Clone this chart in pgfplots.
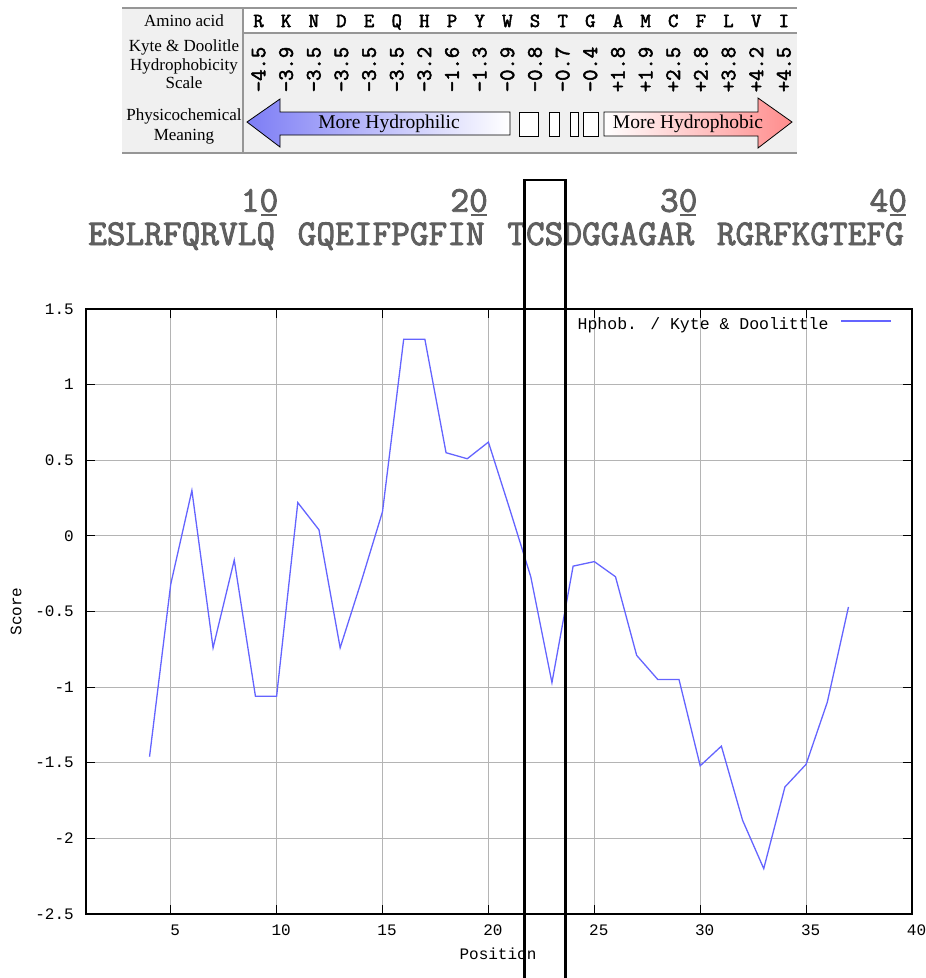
\documentclass[border=0pt]{standalone}
\usepackage{fontspec}
\usepackage{pgfplots}
\pgfplotsset{compat=1.18}
\setmainfont{Liberation Serif}
\newfontfamily\plotfont{Liberation Mono}
\newfontfamily\courb{Latin Modern Mono}[FakeBold=2.5]
\newcommand\pf{\plotfont\fontsize{16}{18}\selectfont}
\newcommand\lf{\plotfont\fontsize{16.5}{18}\selectfont}
\newcommand\tabfont{\fontsize{17}{19}\selectfont}
\newcommand\aafont{\courb\fontsize{20}{21}\selectfont}
\newcommand\valfont{\courb\fontsize{22}{23}\selectfont}
\newcommand\seqfont{\courb\fontsize{36.3}{40}\selectfont}
\newcommand\arrfont{\fontsize{19.5}{21}\selectfont}
\definecolor{tabbg}{RGB}{240,240,240}
\definecolor{tabline}{RGB}{150,150,150}
\definecolor{seqgray}{RGB}{95,95,95}
\definecolor{gridgray}{RGB}{180,180,180}
\definecolor{plotblue}{RGB}{100,100,255}
\definecolor{arrblue}{RGB}{125,125,245}
\definecolor{arrred}{RGB}{255,140,140}
\begin{document}
\begin{tikzpicture}
\useasboundingbox (0pt,0pt) rectangle (926pt,-978pt);
\begin{scope}[x=1pt,y=-1pt]
  % table background
  \fill[tabbg] (122,8) rectangle (797,153);
  \fill[white] (243,8) rectangle (797,33);
  \draw[tabline, line width=2pt] (122,8) -- (797,8);
  \draw[tabline, line width=2pt] (122,153) -- (797,153);
  \draw[tabline, line width=2pt] (243,33) -- (797,33);
  \draw[tabline, line width=1.5pt] (243,8) -- (243,153);
  % left column
  \node[font=\tabfont, anchor=base, inner sep=0pt] at (184,26.7) {Amino acid};
  \node[font=\tabfont, anchor=base, inner sep=0pt] at (184,51.7) {Kyte \& Doolitle};
  \node[font=\tabfont, anchor=base, inner sep=0pt] at (184,70) {Hydrophobicity};
  \node[font=\tabfont, anchor=base, inner sep=0pt] at (184,88.3) {Scale};
  \node[font=\tabfont, anchor=base, inner sep=0pt] at (184,120) {Physicochemical};
  \node[font=\tabfont, anchor=base, inner sep=0pt] at (184,140) {Meaning};
  % amino acids
  \foreach \l [count=\i from 0] in {R,K,N,D,E,Q,H,P,Y,W,S,T,G,A,M,C,F,L,V,I}
    \node[font=\aafont, anchor=base, inner sep=0pt] at ({258.5+27.65*\i},27) {\l};
  \foreach \v [count=\i from 0] in {-4.5,-3.9,-3.5,-3.5,-3.5,-3.5,-3.2,-1.6,-1.3,-0.9,-0.8,-0.7,-0.4,+1.8,+1.9,+2.5,+2.8,+3.8,+4.2,+4.5}
    \node[font=\valfont, rotate=90, anchor=center, inner sep=0pt] at ({258.5+27.65*\i},69.5) {\v};
  % arrows
  \draw[black, line width=0.8pt, left color=arrblue, right color=white]
    (247,122) -- (280,99) -- (280,112) -- (510,112) -- (510,135) -- (280,135) -- (280,147) -- cycle;
  \draw[black, line width=0.8pt, left color=white, right color=arrred]
    (604,112) -- (758,112) -- (758,98) -- (792,122) -- (758,148) -- (758,136) -- (604,136) -- cycle;
  \draw[black, line width=0.8pt, fill=white] (519.5,112) rectangle (538.5,136);
  \draw[black, line width=0.8pt, fill=white] (549.5,112) rectangle (559,136);
  \draw[black, line width=0.8pt, fill=white] (570,112) rectangle (578.5,136);
  \draw[black, line width=0.8pt, fill=white] (583,112) rectangle (598.5,136);
  \node[font=\arrfont, anchor=base, inner sep=0pt] at (389,128.3) {More Hydrophilic};
  \node[font=\arrfont, anchor=base, inner sep=0pt] at (688,128.3) {More Hydrophobic};
  % sequence
  \foreach \g/\s/\n in {ESLRFQRVLQ/88/1,GQEIFPGFIN/297.55/2,TCSDGGAGAR/507.1/3,RGRFKGTEFG/716.65/4} {
    \node[font=\seqfont, text=seqgray, anchor=base west, inner sep=0pt] at (\s,245) {\g};
    \node[font=\seqfont, text=seqgray, anchor=base east, inner sep=0pt] at ({\s+190.5},211.7) {\n0};
    \draw[seqgray, line width=1.6pt] ({\s+173},215) -- ({\s+189},215);
  }
\end{scope}
\begin{axis}[
  at={(86pt,-914pt)}, anchor=south west,
  scale only axis, width=826pt, height=605pt,
  xmin=1, xmax=40, ymin=-2.5, ymax=1.5,
  xtick={5,10,15,20,25,30,35,40},
  xticklabels={5,10,15,20,25,30,35,40},
  ytick={-2.5,-2,-1.5,-1,-0.5,0,0.5,1,1.5},
  yticklabels={-2.5,-2,-1.5,-1,-0.5,0,0.5,1,1.5},
  grid=major,
  major grid style={color=gridgray, line width=1pt},
  axis line style={line width=1.5pt},
  tick align=inside,
  major tick length=9pt,
  tick style={black, line width=1.2pt},
  xticklabel style={font=\pf, inner sep=0pt, yshift=-11pt, xshift=4.5pt},
  yticklabel style={font=\pf, inner sep=0pt, xshift=-12pt},
  xlabel={Position}, ylabel={Score},
  xlabel style={font=\pf, inner sep=0pt, at={(axis description cs:0.4988,-0.0661)}, anchor=center},
  ylabel style={font=\pf, inner sep=0pt, at={(axis description cs:-0.0847,0.5)}, anchor=center},
  legend plot pos=right,
  legend image code/.code={\draw[#1] (0pt,3pt) -- (50pt,3pt);},
  legend style={draw=none, fill=none, font=\lf, inner sep=0pt,
    nodes={inner sep=0pt}, column sep=12pt,
    at={(axis description cs:0.9758,0.9752)}, anchor=east},
]
\addplot[color=plotblue, line width=1.3pt, mark=none] coordinates {
(4,-1.46) (5,-0.32) (6,0.30) (7,-0.74) (8,-0.16) (9,-1.06) (10,-1.06)
(11,0.22) (12,0.04) (13,-0.74) (14,-0.30) (15,0.16) (16,1.30) (17,1.30)
(18,0.55) (19,0.51) (20,0.62) (21,0.18) (22,-0.27) (23,-0.97) (24,-0.20)
(25,-0.17) (26,-0.27) (27,-0.79) (28,-0.95) (29,-0.95) (30,-1.52)
(31,-1.39) (32,-1.88) (33,-2.20) (34,-1.66) (35,-1.51) (36,-1.10) (37,-0.47)
};
\addlegendentry{Hphob. / Kyte \& Doolittle}
\end{axis}
\begin{scope}[x=1pt,y=-1pt]
  \draw[black, line width=2.5pt] (524.5,990) -- (524.5,180) -- (565.5,180) -- (565.5,990);
\end{scope}
\end{tikzpicture}
\end{document}
